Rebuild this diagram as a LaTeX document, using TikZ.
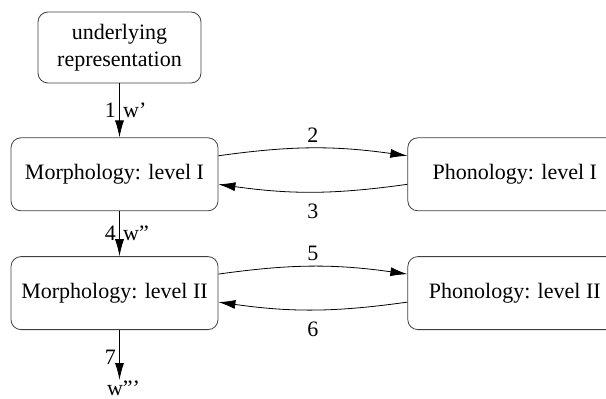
\documentclass[tikz,border=0pt]{standalone}
\usepackage{fontspec}
\setmainfont{Liberation Serif}
\usetikzlibrary{positioning, arrows.meta}

\tikzset{
    module/.style={draw=black!75, line width=0.8pt, rounded corners=10pt,
        minimum width=207pt, minimum height=73pt, align=center, inner sep=0pt},
    flow/.style={-{Latex[length=17pt,width=9pt]}, line width=0.8pt},
}

\begin{document}
\begin{tikzpicture}[font=\fontsize{22pt}{27pt}\selectfont]
    \useasboundingbox (0pt,0pt) rectangle (606pt,-399pt);

    \node[module, minimum width=163pt, minimum height=71pt] (ur) at (119.5pt,-47.5pt) {underlying\\representation};

    \node[module] (m1) [below = 54pt of ur, xshift=-5pt] {Morphology: level I};
    \node[module] (m2) [below = 45pt of m1] {Morphology: level II};

    \node[module, minimum width=214pt] (p1) [right = 189pt of m1] {Phonology: level I};
    \node[module, minimum width=214pt] (p2) [right = 189pt of m2] {Phonology: level II};

    \node[inner sep=0pt] (out) [below = 51pt of m2.south, xshift=9pt, anchor=north] {w'''};

    \path[flow]
        (ur.south) edge node[left] {1} node[right] {w'} (ur.south |- m1.north)
        (ur.south |- m1.south) edge node[left] {4} node[right] {w''} (ur.south |- m2.north)
        (ur.south |- m2.south) edge node[left, pos=0.55] {7} ([yshift=1pt]ur.south |- out.north)

        ([yshift=18.5pt]m1.east) edge[bend left=8] node[above=2pt] {2} ([yshift=18.5pt]p1.west)
        ([yshift=-10pt]p1.west) edge[bend left=8] node[below=8pt] {3} ([yshift=-10pt]m1.east)

        ([yshift=19pt]m2.east) edge[bend left=8] node[above=2pt] {5} ([yshift=19pt]p2.west)
        ([yshift=-9pt]p2.west) edge[bend left=8] node[below=8pt] {6} ([yshift=-9pt]m2.east)
        ;
\end{tikzpicture}
\end{document}
